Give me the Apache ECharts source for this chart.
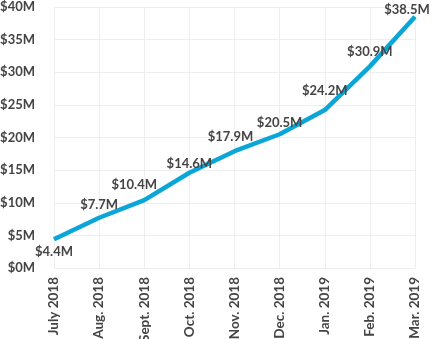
<!DOCTYPE html>
<html><head><meta charset="utf-8">
<script src="https://cdn.jsdelivr.net/npm/echarts@6/dist/echarts.min.js"></script>
<style>html,body{margin:0;padding:0;background:#fff}#c{width:435px;height:339px}</style>
</head><body><div id="c"></div>
<script>
const categories = ["July 2018","Aug. 2018","Sept. 2018","Oct. 2018","Nov. 2018","Dec. 2018","Jan. 2019","Feb. 2019","Mar. 2019"];
const values = [4.4, 7.7, 10.4, 14.6, 17.9, 20.5, 24.2, 30.9, 38.5];
const yTicks = [0, 5, 10, 15, 20, 25, 30, 35, 40];
const labelOffsets = [[0,24],[0,-2],[-10,-4],[0,2],[-4,-3],[0,0],[0,-8],[0,-4],[-8,4]];

const chart = echarts.init(document.getElementById('c'), null, {renderer:'canvas'});
const txt = '#444';
chart.setOption({
  animation:false,
  grid:{left:54,right:20,top:7,bottom:71,outerBoundsMode:'none',containLabel:false},
  xAxis:{type:'category',data:categories,boundaryGap:false,
    axisLine:{show:false},axisTick:{show:false},
    splitLine:{show:true,lineStyle:{color:'#eeeeee',width:1}},
    axisLabel:{rotate:90,margin:9,color:txt,fontFamily:'Lato',fontWeight:'bold',fontSize:13.5,interval:0}},
  yAxis:{type:'value',min:yTicks[0],max:yTicks[yTicks.length-1],interval:5,
    axisLine:{show:false},axisTick:{show:false},
    splitLine:{lineStyle:{color:'#eeeeee',width:1}},
    axisLabel:{margin:19,color:txt,fontFamily:'Lato',fontWeight:'bold',fontSize:13,formatter:v=>'$'+v+'M'}},
  series:[{type:'line',data:values.map((v,i)=>({value:v,label:{offset:labelOffsets[i]}})),
    showSymbol:true,symbol:'circle',symbolSize:1,
    itemStyle:{color:'rgba(0,0,0,0)'},
    lineStyle:{color:'#0aa6d8',width:4.5},
    label:{show:true,position:'top',distance:4,color:txt,fontFamily:'Lato',fontWeight:'bold',fontSize:13,
      formatter:p=>'$'+p.value.toFixed(1)+'M'}}]
});
</script></body></html>
